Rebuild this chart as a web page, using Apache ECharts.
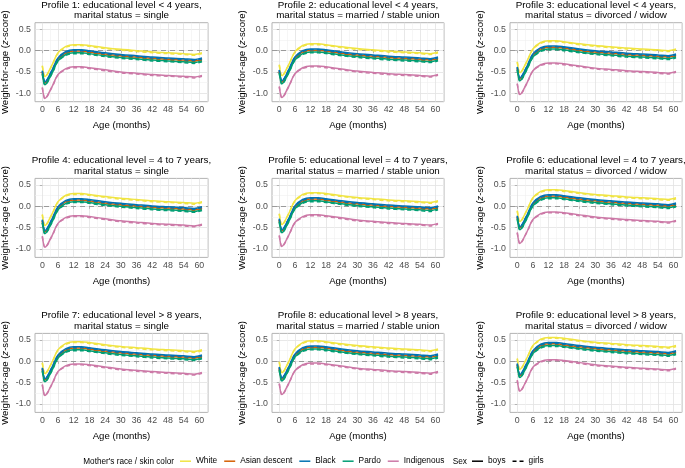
<!DOCTYPE html>
<html><head><meta charset="utf-8">
<script src="https://cdn.jsdelivr.net/npm/echarts@6/dist/echarts.min.js"></script>
<style>html,body{margin:0;padding:0;background:#fff}#c{width:685px;height:468px}</style>
</head><body><div id="c"></div>
<script>
// ---------- axes / categories ----------
const AGES = [0,1,2,3,4,6,9,12,15,18,24,30,36,42,48,54,58,61];
const X_TICKS = [0,6,12,18,24,30,36,42,48,54,60];
const X_MINOR = [3,9,15,21,27,33,39,45,51,57,63];
const Y_TICKS = [-1.0,-0.5,0.0,0.5];
const Y_MINOR = [-0.75,-0.25,0.25];
const RACES = ['White','Asian descent','Black','Pardo','Indigenous'];
const SEXES = ['boys','girls'];
const TITLES = [
  'Profile 1: educational level < 4 years,\nmarital status = single',
  'Profile 2: educational level < 4 years,\nmarital status = married / stable union',
  'Profile 3: educational level < 4 years,\nmarital status = divorced / widow',
  'Profile 4: educational level = 4 to 7 years,\nmarital status = single',
  'Profile 5: educational level = 4 to 7 years,\nmarital status = married / stable union',
  'Profile 6: educational level = 4 to 7 years,\nmarital status = divorced / widow',
  'Profile 7: educational level > 8 years,\nmarital status = single',
  'Profile 8: educational level > 8 years,\nmarital status = married / stable union',
  'Profile 9: educational level > 8 years,\nmarital status = divorced / widow'
];

// ---------- series values (weight-for-age z-score at AGES) ----------
// Profile 1
const p1_white_boys  = [-0.35,-0.61,-0.54,-0.42,-0.30,-0.05,0.10,0.14,0.14,0.12,0.07,0.03,0.00,-0.03,-0.05,-0.07,-0.09,-0.05];
const p1_white_girls = [-0.36,-0.62,-0.55,-0.43,-0.31,-0.06,0.08,0.12,0.12,0.10,0.05,0.01,-0.02,-0.05,-0.07,-0.09,-0.11,-0.07];
const p1_asian_boys  = [-0.50,-0.76,-0.69,-0.57,-0.45,-0.20,-0.05,-0.01,-0.01,-0.03,-0.08,-0.12,-0.15,-0.18,-0.20,-0.22,-0.24,-0.20];
const p1_asian_girls = [-0.51,-0.77,-0.70,-0.58,-0.46,-0.21,-0.07,-0.03,-0.03,-0.05,-0.10,-0.14,-0.17,-0.20,-0.22,-0.24,-0.26,-0.22];
const p1_black_boys  = [-0.47,-0.73,-0.66,-0.54,-0.42,-0.17,-0.02,0.02,0.02,0.00,-0.05,-0.09,-0.12,-0.15,-0.17,-0.19,-0.21,-0.17];
const p1_black_girls = [-0.48,-0.74,-0.67,-0.55,-0.43,-0.18,-0.04,0.00,0.00,-0.02,-0.07,-0.11,-0.14,-0.17,-0.19,-0.21,-0.23,-0.19];
const p1_pardo_boys  = [-0.54,-0.80,-0.73,-0.61,-0.49,-0.24,-0.09,-0.05,-0.05,-0.07,-0.12,-0.16,-0.19,-0.22,-0.24,-0.26,-0.28,-0.24];
const p1_pardo_girls = [-0.55,-0.81,-0.74,-0.62,-0.50,-0.25,-0.11,-0.07,-0.07,-0.09,-0.14,-0.18,-0.21,-0.24,-0.26,-0.28,-0.30,-0.26];
const p1_indig_boys  = [-0.86,-1.12,-1.05,-0.93,-0.81,-0.56,-0.42,-0.38,-0.38,-0.40,-0.45,-0.50,-0.53,-0.56,-0.58,-0.60,-0.62,-0.58];
const p1_indig_girls = [-0.87,-1.13,-1.06,-0.94,-0.82,-0.57,-0.44,-0.40,-0.40,-0.42,-0.47,-0.52,-0.55,-0.58,-0.60,-0.62,-0.64,-0.60];
// Profile 2
const p2_white_boys  = [-0.33,-0.59,-0.52,-0.40,-0.28,-0.03,0.12,0.16,0.16,0.14,0.09,0.05,0.02,-0.01,-0.03,-0.05,-0.07,-0.03];
const p2_white_girls = [-0.34,-0.60,-0.53,-0.41,-0.29,-0.04,0.10,0.14,0.14,0.12,0.07,0.03,0.00,-0.03,-0.05,-0.07,-0.09,-0.05];
const p2_asian_boys  = [-0.48,-0.74,-0.67,-0.55,-0.43,-0.18,-0.03,0.01,0.01,-0.01,-0.06,-0.10,-0.13,-0.16,-0.18,-0.20,-0.22,-0.18];
const p2_asian_girls = [-0.49,-0.75,-0.68,-0.56,-0.44,-0.19,-0.05,-0.01,-0.01,-0.03,-0.08,-0.12,-0.15,-0.18,-0.20,-0.22,-0.24,-0.20];
const p2_black_boys  = [-0.45,-0.71,-0.64,-0.52,-0.40,-0.15,0.00,0.04,0.04,0.02,-0.03,-0.07,-0.10,-0.13,-0.15,-0.17,-0.19,-0.15];
const p2_black_girls = [-0.46,-0.72,-0.65,-0.53,-0.41,-0.16,-0.02,0.02,0.02,0.00,-0.05,-0.09,-0.12,-0.15,-0.17,-0.19,-0.21,-0.17];
const p2_pardo_boys  = [-0.52,-0.78,-0.71,-0.59,-0.47,-0.22,-0.07,-0.03,-0.03,-0.05,-0.10,-0.14,-0.17,-0.20,-0.22,-0.24,-0.26,-0.22];
const p2_pardo_girls = [-0.53,-0.79,-0.72,-0.60,-0.48,-0.23,-0.09,-0.05,-0.05,-0.07,-0.12,-0.16,-0.19,-0.22,-0.24,-0.26,-0.28,-0.24];
const p2_indig_boys  = [-0.84,-1.10,-1.03,-0.91,-0.79,-0.54,-0.40,-0.36,-0.36,-0.38,-0.43,-0.48,-0.51,-0.54,-0.56,-0.58,-0.60,-0.56];
const p2_indig_girls = [-0.85,-1.11,-1.04,-0.92,-0.80,-0.55,-0.42,-0.38,-0.38,-0.40,-0.45,-0.50,-0.53,-0.56,-0.58,-0.60,-0.62,-0.58];
// Profile 3
const p3_white_boys  = [-0.26,-0.52,-0.45,-0.33,-0.21,0.04,0.19,0.23,0.23,0.21,0.16,0.12,0.09,0.06,0.04,0.02,0.00,0.04];
const p3_white_girls = [-0.27,-0.53,-0.46,-0.34,-0.22,0.03,0.17,0.21,0.21,0.19,0.14,0.10,0.07,0.04,0.02,0.00,-0.02,0.02];
const p3_asian_boys  = [-0.41,-0.67,-0.60,-0.48,-0.36,-0.11,0.04,0.08,0.08,0.06,0.01,-0.03,-0.06,-0.09,-0.11,-0.13,-0.15,-0.11];
const p3_asian_girls = [-0.42,-0.68,-0.61,-0.49,-0.37,-0.12,0.02,0.06,0.06,0.04,-0.01,-0.05,-0.08,-0.11,-0.13,-0.15,-0.17,-0.13];
const p3_black_boys  = [-0.38,-0.64,-0.57,-0.45,-0.33,-0.08,0.07,0.11,0.11,0.09,0.04,0.00,-0.03,-0.06,-0.08,-0.10,-0.12,-0.08];
const p3_black_girls = [-0.39,-0.65,-0.58,-0.46,-0.34,-0.09,0.05,0.09,0.09,0.07,0.02,-0.02,-0.05,-0.08,-0.10,-0.12,-0.14,-0.10];
const p3_pardo_boys  = [-0.45,-0.71,-0.64,-0.52,-0.40,-0.15,0.00,0.04,0.04,0.02,-0.03,-0.07,-0.10,-0.13,-0.15,-0.17,-0.19,-0.15];
const p3_pardo_girls = [-0.46,-0.72,-0.65,-0.53,-0.41,-0.16,-0.02,0.02,0.02,0.00,-0.05,-0.09,-0.12,-0.15,-0.17,-0.19,-0.21,-0.17];
const p3_indig_boys  = [-0.77,-1.03,-0.96,-0.84,-0.72,-0.47,-0.33,-0.29,-0.29,-0.31,-0.36,-0.41,-0.44,-0.47,-0.49,-0.51,-0.53,-0.49];
const p3_indig_girls = [-0.78,-1.04,-0.97,-0.85,-0.73,-0.48,-0.35,-0.31,-0.31,-0.33,-0.38,-0.43,-0.46,-0.49,-0.51,-0.53,-0.55,-0.51];
// Profile 4
const p4_white_boys  = [-0.19,-0.45,-0.38,-0.26,-0.14,0.11,0.26,0.30,0.30,0.28,0.23,0.19,0.16,0.13,0.11,0.09,0.07,0.11];
const p4_white_girls = [-0.20,-0.46,-0.39,-0.27,-0.15,0.10,0.24,0.28,0.28,0.26,0.21,0.17,0.14,0.11,0.09,0.07,0.05,0.09];
const p4_asian_boys  = [-0.34,-0.60,-0.53,-0.41,-0.29,-0.04,0.11,0.15,0.15,0.13,0.08,0.04,0.01,-0.02,-0.04,-0.06,-0.08,-0.04];
const p4_asian_girls = [-0.35,-0.61,-0.54,-0.42,-0.30,-0.05,0.09,0.13,0.13,0.11,0.06,0.02,-0.01,-0.04,-0.06,-0.08,-0.10,-0.06];
const p4_black_boys  = [-0.31,-0.57,-0.50,-0.38,-0.26,-0.01,0.14,0.18,0.18,0.16,0.11,0.07,0.04,0.01,-0.01,-0.03,-0.05,-0.01];
const p4_black_girls = [-0.32,-0.58,-0.51,-0.39,-0.27,-0.02,0.12,0.16,0.16,0.14,0.09,0.05,0.02,-0.01,-0.03,-0.05,-0.07,-0.03];
const p4_pardo_boys  = [-0.38,-0.64,-0.57,-0.45,-0.33,-0.08,0.07,0.11,0.11,0.09,0.04,0.00,-0.03,-0.06,-0.08,-0.10,-0.12,-0.08];
const p4_pardo_girls = [-0.39,-0.65,-0.58,-0.46,-0.34,-0.09,0.05,0.09,0.09,0.07,0.02,-0.02,-0.05,-0.08,-0.10,-0.12,-0.14,-0.10];
const p4_indig_boys  = [-0.70,-0.96,-0.89,-0.77,-0.65,-0.40,-0.26,-0.22,-0.22,-0.24,-0.29,-0.34,-0.37,-0.40,-0.42,-0.44,-0.46,-0.42];
const p4_indig_girls = [-0.71,-0.97,-0.90,-0.78,-0.66,-0.41,-0.28,-0.24,-0.24,-0.26,-0.31,-0.36,-0.39,-0.42,-0.44,-0.46,-0.48,-0.44];
// Profile 5
const p5_white_boys  = [-0.17,-0.43,-0.36,-0.24,-0.12,0.13,0.28,0.32,0.32,0.30,0.25,0.21,0.18,0.15,0.13,0.11,0.09,0.13];
const p5_white_girls = [-0.18,-0.44,-0.37,-0.25,-0.13,0.12,0.26,0.30,0.30,0.28,0.23,0.19,0.16,0.13,0.11,0.09,0.07,0.11];
const p5_asian_boys  = [-0.32,-0.58,-0.51,-0.39,-0.27,-0.02,0.13,0.17,0.17,0.15,0.10,0.06,0.03,0.00,-0.02,-0.04,-0.06,-0.02];
const p5_asian_girls = [-0.33,-0.59,-0.52,-0.40,-0.28,-0.03,0.11,0.15,0.15,0.13,0.08,0.04,0.01,-0.02,-0.04,-0.06,-0.08,-0.04];
const p5_black_boys  = [-0.29,-0.55,-0.48,-0.36,-0.24,0.01,0.16,0.20,0.20,0.18,0.13,0.09,0.06,0.03,0.01,-0.01,-0.03,0.01];
const p5_black_girls = [-0.30,-0.56,-0.49,-0.37,-0.25,0.00,0.14,0.18,0.18,0.16,0.11,0.07,0.04,0.01,-0.01,-0.03,-0.05,-0.01];
const p5_pardo_boys  = [-0.36,-0.62,-0.55,-0.43,-0.31,-0.06,0.09,0.13,0.13,0.11,0.06,0.02,-0.01,-0.04,-0.06,-0.08,-0.10,-0.06];
const p5_pardo_girls = [-0.37,-0.63,-0.56,-0.44,-0.32,-0.07,0.07,0.11,0.11,0.09,0.04,0.00,-0.03,-0.06,-0.08,-0.10,-0.12,-0.08];
const p5_indig_boys  = [-0.68,-0.94,-0.87,-0.75,-0.63,-0.38,-0.24,-0.20,-0.20,-0.22,-0.27,-0.32,-0.35,-0.38,-0.40,-0.42,-0.44,-0.40];
const p5_indig_girls = [-0.69,-0.95,-0.88,-0.76,-0.64,-0.39,-0.26,-0.22,-0.22,-0.24,-0.29,-0.34,-0.37,-0.40,-0.42,-0.44,-0.46,-0.42];
// Profile 6
const p6_white_boys  = [-0.10,-0.36,-0.29,-0.17,-0.05,0.20,0.35,0.39,0.39,0.37,0.32,0.28,0.25,0.22,0.20,0.18,0.16,0.20];
const p6_white_girls = [-0.11,-0.37,-0.30,-0.18,-0.06,0.19,0.33,0.37,0.37,0.35,0.30,0.26,0.23,0.20,0.18,0.16,0.14,0.18];
const p6_asian_boys  = [-0.25,-0.51,-0.44,-0.32,-0.20,0.05,0.20,0.24,0.24,0.22,0.17,0.13,0.10,0.07,0.05,0.03,0.01,0.05];
const p6_asian_girls = [-0.26,-0.52,-0.45,-0.33,-0.21,0.04,0.18,0.22,0.22,0.20,0.15,0.11,0.08,0.05,0.03,0.01,-0.01,0.03];
const p6_black_boys  = [-0.22,-0.48,-0.41,-0.29,-0.17,0.08,0.23,0.27,0.27,0.25,0.20,0.16,0.13,0.10,0.08,0.06,0.04,0.08];
const p6_black_girls = [-0.23,-0.49,-0.42,-0.30,-0.18,0.07,0.21,0.25,0.25,0.23,0.18,0.14,0.11,0.08,0.06,0.04,0.02,0.06];
const p6_pardo_boys  = [-0.29,-0.55,-0.48,-0.36,-0.24,0.01,0.16,0.20,0.20,0.18,0.13,0.09,0.06,0.03,0.01,-0.01,-0.03,0.01];
const p6_pardo_girls = [-0.30,-0.56,-0.49,-0.37,-0.25,0.00,0.14,0.18,0.18,0.16,0.11,0.07,0.04,0.01,-0.01,-0.03,-0.05,-0.01];
const p6_indig_boys  = [-0.61,-0.87,-0.80,-0.68,-0.56,-0.31,-0.17,-0.13,-0.13,-0.15,-0.20,-0.25,-0.28,-0.31,-0.33,-0.35,-0.37,-0.33];
const p6_indig_girls = [-0.62,-0.88,-0.81,-0.69,-0.57,-0.32,-0.19,-0.15,-0.15,-0.17,-0.22,-0.27,-0.30,-0.33,-0.35,-0.37,-0.39,-0.35];
// Profile 7
const p7_white_boys  = [-0.03,-0.29,-0.22,-0.10,0.02,0.27,0.42,0.46,0.46,0.44,0.39,0.35,0.32,0.29,0.27,0.25,0.23,0.27];
const p7_white_girls = [-0.04,-0.30,-0.23,-0.11,0.01,0.26,0.40,0.44,0.44,0.42,0.37,0.33,0.30,0.27,0.25,0.23,0.21,0.25];
const p7_asian_boys  = [-0.18,-0.44,-0.37,-0.25,-0.13,0.12,0.27,0.31,0.31,0.29,0.24,0.20,0.17,0.14,0.12,0.10,0.08,0.12];
const p7_asian_girls = [-0.19,-0.45,-0.38,-0.26,-0.14,0.11,0.25,0.29,0.29,0.27,0.22,0.18,0.15,0.12,0.10,0.08,0.06,0.10];
const p7_black_boys  = [-0.15,-0.41,-0.34,-0.22,-0.10,0.15,0.30,0.34,0.34,0.32,0.27,0.23,0.20,0.17,0.15,0.13,0.11,0.15];
const p7_black_girls = [-0.16,-0.42,-0.35,-0.23,-0.11,0.14,0.28,0.32,0.32,0.30,0.25,0.21,0.18,0.15,0.13,0.11,0.09,0.13];
const p7_pardo_boys  = [-0.22,-0.48,-0.41,-0.29,-0.17,0.08,0.23,0.27,0.27,0.25,0.20,0.16,0.13,0.10,0.08,0.06,0.04,0.08];
const p7_pardo_girls = [-0.23,-0.49,-0.42,-0.30,-0.18,0.07,0.21,0.25,0.25,0.23,0.18,0.14,0.11,0.08,0.06,0.04,0.02,0.06];
const p7_indig_boys  = [-0.54,-0.80,-0.73,-0.61,-0.49,-0.24,-0.10,-0.06,-0.06,-0.08,-0.13,-0.18,-0.21,-0.24,-0.26,-0.28,-0.30,-0.26];
const p7_indig_girls = [-0.55,-0.81,-0.74,-0.62,-0.50,-0.25,-0.12,-0.08,-0.08,-0.10,-0.15,-0.20,-0.23,-0.26,-0.28,-0.30,-0.32,-0.28];
// Profile 8
const p8_white_boys  = [-0.01,-0.27,-0.20,-0.08,0.04,0.29,0.44,0.48,0.48,0.46,0.41,0.37,0.34,0.31,0.29,0.27,0.25,0.29];
const p8_white_girls = [-0.02,-0.28,-0.21,-0.09,0.03,0.28,0.42,0.46,0.46,0.44,0.39,0.35,0.32,0.29,0.27,0.25,0.23,0.27];
const p8_asian_boys  = [-0.16,-0.42,-0.35,-0.23,-0.11,0.14,0.29,0.33,0.33,0.31,0.26,0.22,0.19,0.16,0.14,0.12,0.10,0.14];
const p8_asian_girls = [-0.17,-0.43,-0.36,-0.24,-0.12,0.13,0.27,0.31,0.31,0.29,0.24,0.20,0.17,0.14,0.12,0.10,0.08,0.12];
const p8_black_boys  = [-0.13,-0.39,-0.32,-0.20,-0.08,0.17,0.32,0.36,0.36,0.34,0.29,0.25,0.22,0.19,0.17,0.15,0.13,0.17];
const p8_black_girls = [-0.14,-0.40,-0.33,-0.21,-0.09,0.16,0.30,0.34,0.34,0.32,0.27,0.23,0.20,0.17,0.15,0.13,0.11,0.15];
const p8_pardo_boys  = [-0.20,-0.46,-0.39,-0.27,-0.15,0.10,0.25,0.29,0.29,0.27,0.22,0.18,0.15,0.12,0.10,0.08,0.06,0.10];
const p8_pardo_girls = [-0.21,-0.47,-0.40,-0.28,-0.16,0.09,0.23,0.27,0.27,0.25,0.20,0.16,0.13,0.10,0.08,0.06,0.04,0.08];
const p8_indig_boys  = [-0.52,-0.78,-0.71,-0.59,-0.47,-0.22,-0.08,-0.04,-0.04,-0.06,-0.11,-0.16,-0.19,-0.22,-0.24,-0.26,-0.28,-0.24];
const p8_indig_girls = [-0.53,-0.79,-0.72,-0.60,-0.48,-0.23,-0.10,-0.06,-0.06,-0.08,-0.13,-0.18,-0.21,-0.24,-0.26,-0.28,-0.30,-0.26];
// Profile 9
const p9_white_boys  = [0.07,-0.19,-0.12,0.00,0.12,0.37,0.52,0.56,0.56,0.54,0.49,0.45,0.42,0.39,0.37,0.35,0.33,0.37];
const p9_white_girls = [0.06,-0.20,-0.13,-0.01,0.11,0.36,0.50,0.54,0.54,0.52,0.47,0.43,0.40,0.37,0.35,0.33,0.31,0.35];
const p9_asian_boys  = [-0.08,-0.34,-0.27,-0.15,-0.03,0.22,0.37,0.41,0.41,0.39,0.34,0.30,0.27,0.24,0.22,0.20,0.18,0.22];
const p9_asian_girls = [-0.09,-0.35,-0.28,-0.16,-0.04,0.21,0.35,0.39,0.39,0.37,0.32,0.28,0.25,0.22,0.20,0.18,0.16,0.20];
const p9_black_boys  = [-0.05,-0.31,-0.24,-0.12,0.00,0.25,0.40,0.44,0.44,0.42,0.37,0.33,0.30,0.27,0.25,0.23,0.21,0.25];
const p9_black_girls = [-0.06,-0.32,-0.25,-0.13,-0.01,0.24,0.38,0.42,0.42,0.40,0.35,0.31,0.28,0.25,0.23,0.21,0.19,0.23];
const p9_pardo_boys  = [-0.12,-0.38,-0.31,-0.19,-0.07,0.18,0.33,0.37,0.37,0.35,0.30,0.26,0.23,0.20,0.18,0.16,0.14,0.18];
const p9_pardo_girls = [-0.13,-0.39,-0.32,-0.20,-0.08,0.17,0.31,0.35,0.35,0.33,0.28,0.24,0.21,0.18,0.16,0.14,0.12,0.16];
const p9_indig_boys  = [-0.44,-0.70,-0.63,-0.51,-0.39,-0.14,0.00,0.04,0.04,0.02,-0.03,-0.08,-0.11,-0.14,-0.16,-0.18,-0.20,-0.16];
const p9_indig_girls = [-0.45,-0.71,-0.64,-0.52,-0.40,-0.15,-0.02,0.02,0.02,0.00,-0.05,-0.10,-0.13,-0.16,-0.18,-0.20,-0.22,-0.18];

const PANELS = [
  [[p1_white_boys,p1_white_girls],[p1_asian_boys,p1_asian_girls],[p1_black_boys,p1_black_girls],[p1_pardo_boys,p1_pardo_girls],[p1_indig_boys,p1_indig_girls]],
  [[p2_white_boys,p2_white_girls],[p2_asian_boys,p2_asian_girls],[p2_black_boys,p2_black_girls],[p2_pardo_boys,p2_pardo_girls],[p2_indig_boys,p2_indig_girls]],
  [[p3_white_boys,p3_white_girls],[p3_asian_boys,p3_asian_girls],[p3_black_boys,p3_black_girls],[p3_pardo_boys,p3_pardo_girls],[p3_indig_boys,p3_indig_girls]],
  [[p4_white_boys,p4_white_girls],[p4_asian_boys,p4_asian_girls],[p4_black_boys,p4_black_girls],[p4_pardo_boys,p4_pardo_girls],[p4_indig_boys,p4_indig_girls]],
  [[p5_white_boys,p5_white_girls],[p5_asian_boys,p5_asian_girls],[p5_black_boys,p5_black_girls],[p5_pardo_boys,p5_pardo_girls],[p5_indig_boys,p5_indig_girls]],
  [[p6_white_boys,p6_white_girls],[p6_asian_boys,p6_asian_girls],[p6_black_boys,p6_black_girls],[p6_pardo_boys,p6_pardo_girls],[p6_indig_boys,p6_indig_girls]],
  [[p7_white_boys,p7_white_girls],[p7_asian_boys,p7_asian_girls],[p7_black_boys,p7_black_girls],[p7_pardo_boys,p7_pardo_girls],[p7_indig_boys,p7_indig_girls]],
  [[p8_white_boys,p8_white_girls],[p8_asian_boys,p8_asian_girls],[p8_black_boys,p8_black_girls],[p8_pardo_boys,p8_pardo_girls],[p8_indig_boys,p8_indig_girls]],
  [[p9_white_boys,p9_white_girls],[p9_asian_boys,p9_asian_girls],[p9_black_boys,p9_black_girls],[p9_pardo_boys,p9_pardo_girls],[p9_indig_boys,p9_indig_girls]]
];

// ---------- styling ----------
const COLORS = ['#F0E442','#D55E00','#0072B2','#009E73','#CC79A7'];
const DASH = [4,3];
const FONT = "'Liberation Sans', Arial, Helvetica, sans-serif";
const COL_LEFT = [35, 272, 510];
const COL_W = [173, 172, 172];
const ROW_TOP = [22.7, 178.4, 333.4];
const PANEL_H = 79;
const X_MIN = -2.8, X_MAX = 63.3;
const Y_MIN = -1.197, Y_MAX = 0.655;
const LINE_ICON = 'rect';
const DASH_ICON = 'path://M0,0H4V1.5H0Z M7,0H11V1.5H7Z';

const grids = [], xAxes = [], yAxes = [], series = [], graphics = [];
const xMinorAxes = [], yMinorAxes = [];

for (let k = 0; k < 9; k++) {
  const r = Math.floor(k / 3), c = k % 3;
  grids.push({
    left: COL_LEFT[c], top: ROW_TOP[r], width: COL_W[c], height: PANEL_H,
    show: true, borderColor: '#b3b3b3', borderWidth: 1, backgroundColor: '#fff',
    containLabel: false, outerBoundsMode: 'none'
  });
  xAxes.push({
    type: 'value', gridIndex: k, min: X_MIN, max: X_MAX, position: 'bottom',
    name: 'Age (months)', nameLocation: 'middle', nameGap: 18.5,
    nameTextStyle: { fontFamily: FONT, fontSize: 9.6, color: '#000' },
    axisLine: { show: false },
    axisTick: { show: true, length: 2.5, customValues: X_TICKS, lineStyle: { color: '#b3b3b3', width: 1 } },
    axisLabel: { customValues: X_TICKS, margin: 3.5, fontFamily: FONT, fontSize: 8.8, color: '#4d4d4d', formatter: v => String(v) },
    splitLine: { show: true, lineStyle: { color: '#e2e2e2', width: 0.8 } }
  });
  yAxes.push({
    type: 'value', gridIndex: k, min: Y_MIN, max: Y_MAX, position: 'left',
    name: 'Weight-for-age ({i|z}-score)', nameLocation: 'middle', nameGap: 24.5,
    nameTextStyle: { fontFamily: FONT, fontSize: 9.6, color: '#000',
      rich: { i: { fontFamily: FONT, fontSize: 9.6, fontStyle: 'italic', color: '#000' } } },
    axisLine: { show: false },
    axisTick: { show: true, length: 2.5, customValues: Y_TICKS, lineStyle: { color: '#b3b3b3', width: 1 } },
    axisLabel: { customValues: Y_TICKS, margin: 4, fontFamily: FONT, fontSize: 8.8, color: '#4d4d4d', formatter: v => v.toFixed(1) },
    splitLine: { show: true, lineStyle: { color: '#e2e2e2', width: 0.8 } }
  });
  xMinorAxes.push({
    type: 'value', gridIndex: k, min: X_MIN, max: X_MAX, position: 'top',
    axisLine: { show: false }, axisLabel: { show: false },
    axisTick: { show: false, customValues: X_MINOR },
    splitLine: { show: true, lineStyle: { color: '#f0f0f0', width: 0.6 } }
  });
  yMinorAxes.push({
    type: 'value', gridIndex: k, min: Y_MIN, max: Y_MAX, position: 'right',
    axisLine: { show: false }, axisLabel: { show: false },
    axisTick: { show: false, customValues: Y_MINOR },
    splitLine: { show: true, lineStyle: { color: '#f0f0f0', width: 0.6 } }
  });

  const panel = PANELS[k];
  for (let ri = 0; ri < RACES.length; ri++) {
    for (let si = 0; si < 2; si++) {
      const vals = panel[ri][si];
      const s = {
        type: 'line', name: RACES[ri], xAxisIndex: k, yAxisIndex: k,
        data: AGES.map((a, i) => [a, vals[i]]),
        symbol: 'none', showSymbol: false, smooth: 0.3, silent: true,
        lineStyle: { color: COLORS[ri], width: 1.5, type: si === 0 ? 'solid' : DASH, cap: 'butt' },
        itemStyle: { color: COLORS[ri] },
        z: 2
      };
      if (ri === 0 && si === 0) {
        s.markLine = {
          silent: true, symbol: 'none', z: 1, label: { show: false },
          lineStyle: { color: '#9a9a9a', width: 1, type: [5, 4] },
          data: [{ yAxis: 0 }]
        };
      }
      series.push(s);
    }
  }

  const cx = COL_LEFT[c] + COL_W[c] / 2;
  graphics.push({
    type: 'text', x: cx, y: ROW_TOP[r] - 12.5, silent: true,
    style: { text: TITLES[k], fill: '#000', font: `9.8px ${FONT}`, align: 'center', verticalAlign: 'middle', lineHeight: 10.5 }
  });
}

// legend-only series
SEXES.forEach((sx, i) => {
  series.push({
    type: 'line', name: sx, xAxisIndex: 0, yAxisIndex: 0, data: [],
    symbol: 'none', lineStyle: { color: '#000', width: 1.5, type: i === 0 ? 'solid' : DASH },
    itemStyle: { color: '#000' }
  });
});

graphics.push({
  type: 'text', x: 174, y: 462, silent: true,
  style: { text: "Mother's race / skin color", fill: '#000', font: `8.2px ${FONT}`, align: 'right', verticalAlign: 'middle' }
});
graphics.push({
  type: 'text', x: 467, y: 462, silent: true,
  style: { text: 'Sex', fill: '#000', font: `8.3px ${FONT}`, align: 'right', verticalAlign: 'middle' }
});

const legendCommon = {
  orient: 'horizontal', top: 457.2, itemWidth: 11, itemHeight: 1.5, itemGap: 7, padding: 0,
  textStyle: { fontFamily: FONT, fontSize: 8.3, color: '#000' },
  selectedMode: false
};

const chart = echarts.init(document.getElementById('c'), null, { renderer: 'canvas' });
chart.setOption({
  animation: false,
  backgroundColor: '#fff',
  grid: grids,
  xAxis: xAxes.concat(xMinorAxes),
  yAxis: yAxes.concat(yMinorAxes),
  series: series,
  legend: [
    Object.assign({}, legendCommon, { left: 180, data: RACES.map(n => ({ name: n, icon: LINE_ICON })) }),
    Object.assign({}, legendCommon, { left: 472, data: [{ name: SEXES[0], icon: LINE_ICON }, { name: SEXES[1], icon: DASH_ICON }] })
  ],
  graphic: graphics
});
</script>
</body></html>
